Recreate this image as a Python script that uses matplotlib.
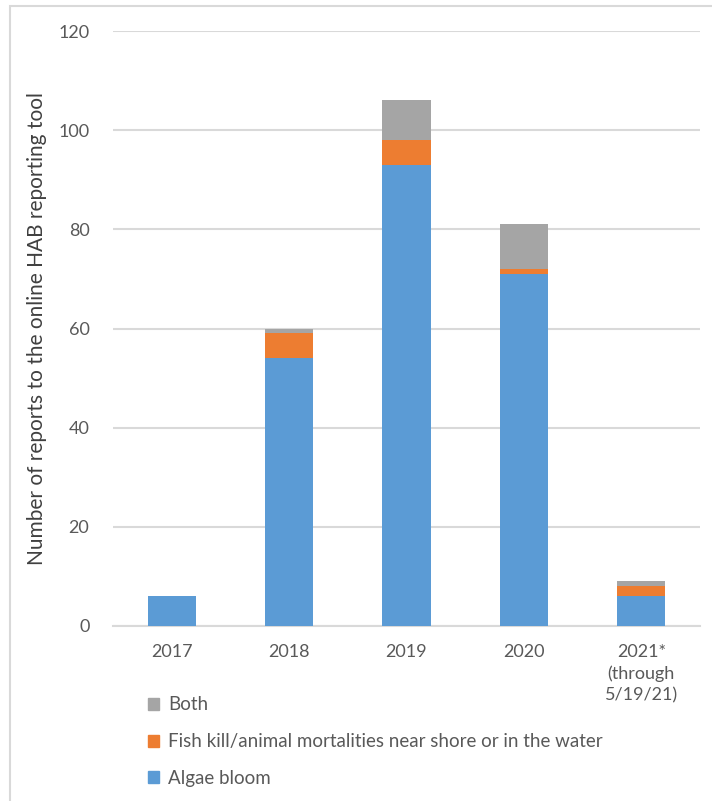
import matplotlib
matplotlib.use("Agg")
import matplotlib.pyplot as plt
from matplotlib.patches import Rectangle, Patch
import numpy as np

plt.rcParams['font.family'] = ['Lato', 'DejaVu Sans']

years = ["2017", "2018", "2019", "2020", "2021*\n(through\n5/19/21)"]
algae_bloom = [6, 54, 93, 71, 6]
fish_kill = [0, 5, 5, 1, 2]
both = [0, 1, 8, 9, 1]

series_labels = ["Algae bloom",
                 "Fish kill/animal mortalities near shore or in the water",
                 "Both"]
colors = ["#5B9BD5", "#ED7D31", "#A5A5A5"]
text_gray = "#595959"

fig = plt.figure(figsize=(7.12, 8.01), dpi=100)

# light chart-area border
fig.patches.append(Rectangle((10 / 712, -0.05), 1.2, 1.05 - 6 / 801,
                             transform=fig.transFigure, fill=False,
                             edgecolor="#D9D9D9", linewidth=1.5, zorder=0))

ax = fig.add_axes([113 / 712, 1 - 626 / 801, 587 / 712, 595 / 801])

x = np.arange(len(years))
width = 0.41
bottom = np.zeros(len(years))
for vals, col, lab in zip([algae_bloom, fish_kill, both], colors, series_labels):
    ax.bar(x, vals, width, bottom=bottom, color=col, label=lab, zorder=3)
    bottom += np.array(vals)

ax.set_ylim(0, 120)
ax.set_xlim(-0.5, len(years) - 0.5)
ax.set_yticks(range(0, 121, 20))
ax.set_xticks(x)
ax.set_xticklabels(years, linespacing=1.4)
ax.yaxis.grid(True, color="#D9D9D9", linewidth=1.5, zorder=0)
ax.set_axisbelow(True)
for side in ["top", "right", "left"]:
    ax.spines[side].set_visible(False)
ax.spines["bottom"].set_color("#D9D9D9")
ax.spines["bottom"].set_linewidth(1.5)
ax.tick_params(axis="both", length=0, labelsize=13, colors=text_gray)
ax.tick_params(axis="x", pad=13)
ax.tick_params(axis="y", pad=17)

ax.set_ylabel("Number of reports to the online HAB reporting tool",
              fontsize=15, color="#404040", labelpad=8)

handles = [Patch(color=c) for c in colors][::-1]
labels = series_labels[::-1]
fig.legend(handles, labels, loc="upper left",
           bbox_to_anchor=(140 / 712, 1 - 689 / 801), frameon=False,
           fontsize=13.5, labelcolor=text_gray, handlelength=0.6,
           handleheight=0.6, handletextpad=0.5, labelspacing=1.05,
           borderaxespad=0)

fig.savefig("out.png", dpi=100)
